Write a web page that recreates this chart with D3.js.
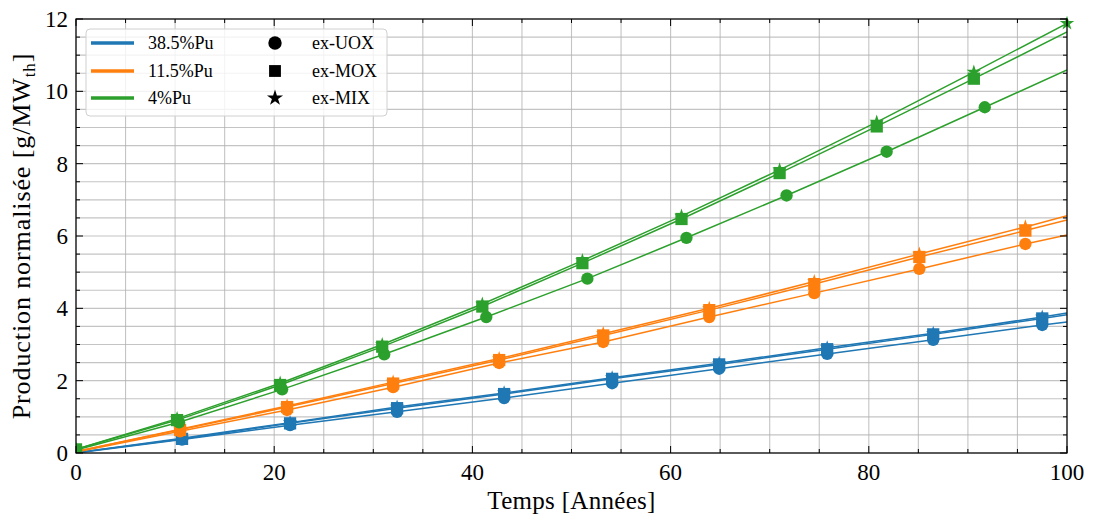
<!DOCTYPE html>
<html>
<head>
<meta charset="utf-8">
<script src="https://cdn.jsdelivr.net/npm/d3@7"></script>
<style>
  body { margin: 0; background: #fff; }
  svg { display: block; }
  text { font-family: "Liberation Serif", "DejaVu Serif", serif; fill: #000; }
</style>
</head>
<body>
<svg id="chart" width="1094" height="520"></svg>
<script>
// ---------------- data ----------------
const fuels = ["38.5%Pu", "11.5%Pu", "4%Pu"];
const colors = ["#1f77b4", "#ff7f0e", "#2ca02c"];
const origins = ["ex-UOX", "ex-MOX", "ex-MIX"];

// times (years) of the sampled points, per fuel
const timesBlue = [0, 10.7, 21.6, 32.4, 43.2, 54.1, 64.9, 75.8, 86.5, 97.5, 100];
const timesOrange = [0, 10.5, 21.3, 32.0, 42.7, 53.2, 63.9, 74.5, 85.1, 95.8, 100];
const timesGreen = [0, 10.2, 20.6, 30.9, 41.0, 51.1, 61.1, 71.0, 80.8, 90.6, 100];
const timesGreenUOX = [0, 10.4, 20.8, 31.1, 41.4, 51.6, 61.6, 71.7, 81.8, 91.7, 100];

// production [g/MWth]
const blueUOX = [0.0, 0.37, 0.77, 1.14, 1.52, 1.93, 2.33, 2.74, 3.13, 3.54, 3.62];
const blueMOX = [0.01, 0.39, 0.82, 1.24, 1.63, 2.05, 2.45, 2.87, 3.28, 3.72, 3.82];
const blueMIX = [0.01, 0.41, 0.84, 1.27, 1.66, 2.08, 2.48, 2.91, 3.31, 3.76, 3.87];

const orangeUOX = [0.03, 0.60, 1.19, 1.82, 2.49, 3.07, 3.76, 4.42, 5.09, 5.78, 6.03];
const orangeMOX = [0.04, 0.64, 1.27, 1.92, 2.57, 3.25, 3.95, 4.67, 5.42, 6.15, 6.44];
const orangeMIX = [0.04, 0.66, 1.30, 1.96, 2.61, 3.30, 4.00, 4.74, 5.50, 6.25, 6.56];

const greenUOX = [0.08, 0.85, 1.76, 2.73, 3.76, 4.82, 5.95, 7.12, 8.33, 9.56, 10.59];
const greenMOX = [0.1, 0.91, 1.88, 2.94, 4.05, 5.25, 6.47, 7.74, 9.03, 10.35, 11.64];
const greenMIX = [0.1, 0.95, 1.93, 3.0, 4.12, 5.32, 6.55, 7.83, 9.15, 10.53, 11.88];

// number of leading points that carry a marker (last point marked only for green ex-MIX)
const markedCount = { "ex-UOX": 10, "ex-MOX": 10, "ex-MIX": 10 };
const greenMIXMarked = 11;

const xTicks = [0, 20, 40, 60, 80, 100];
const yTicks = [0, 2, 4, 6, 8, 10, 12];

const series = [
  { fuel: 0, origin: "ex-UOX", t: timesBlue, v: blueUOX },
  { fuel: 0, origin: "ex-MIX", t: timesBlue, v: blueMIX },
  { fuel: 0, origin: "ex-MOX", t: timesBlue, v: blueMOX },
  { fuel: 1, origin: "ex-UOX", t: timesOrange, v: orangeUOX },
  { fuel: 1, origin: "ex-MIX", t: timesOrange, v: orangeMIX },
  { fuel: 1, origin: "ex-MOX", t: timesOrange, v: orangeMOX },
  { fuel: 2, origin: "ex-UOX", t: timesGreenUOX, v: greenUOX },
  { fuel: 2, origin: "ex-MIX", t: timesGreen, v: greenMIX },
  { fuel: 2, origin: "ex-MOX", t: timesGreen, v: greenMOX }
];

// ---------------- layout ----------------
const W = 1094, H = 520;
const m = { left: 76, right: 27, top: 19, bottom: 67 };
const iw = W - m.left - m.right, ih = H - m.top - m.bottom;

const svg = d3.select("#chart");
const g = svg.append("g").attr("transform", `translate(${m.left},${m.top})`);

const x = d3.scaleLinear().domain([0, 100]).range([0, iw]);
const y = d3.scaleLinear().domain([0, 12]).range([ih, 0]);

const xMinor = d3.range(0, 100.01, 5);
const yMinor = d3.range(0, 12.01, 0.5);

// grid
g.append("g").selectAll("line").data(xMinor).join("line")
  .attr("x1", d => x(d)).attr("x2", d => x(d)).attr("y1", 0).attr("y2", ih)
  .attr("stroke", "#b0b0b0").attr("stroke-opacity", 0.75).attr("stroke-width", 1.1);
g.append("g").selectAll("line").data(yMinor).join("line")
  .attr("y1", d => y(d)).attr("y2", d => y(d)).attr("x1", 0).attr("x2", iw)
  .attr("stroke", "#b0b0b0").attr("stroke-opacity", 0.75).attr("stroke-width", 1.1);

// clip
svg.append("defs").append("clipPath").attr("id", "clip")
  .append("rect").attr("x", 0).attr("y", 0).attr("width", iw).attr("height", ih);

const plot = g.append("g").attr("clip-path", "url(#clip)");
const line = d3.line().x(d => x(d[0])).y(d => y(d[1]));

const symType = { "ex-UOX": d3.symbolCircle, "ex-MOX": d3.symbolSquare, "ex-MIX": d3.symbolStar };
const symSize = { "ex-UOX": 120, "ex-MOX": 150, "ex-MIX": 65 };

series.forEach(s => {
  const pts = s.t.map((t, i) => [t, s.v[i]]);
  plot.append("path").datum(pts)
    .attr("d", line).attr("fill", "none")
    .attr("stroke", colors[s.fuel]).attr("stroke-width", 1.5);
  const n = (s.fuel === 2 && s.origin === "ex-MIX") ? greenMIXMarked : markedCount[s.origin];
  const sym = d3.symbol().type(symType[s.origin]).size(symSize[s.origin]);
  g.append("g").selectAll("path").data(pts.slice(1, n)).join("path")
    .attr("transform", d => `translate(${x(d[0])},${y(d[1])})`)
    .attr("d", sym).attr("fill", colors[s.fuel]);
  // marker at origin is clipped by the axes
  plot.append("path").datum(pts[0])
    .attr("transform", d => `translate(${x(d[0])},${y(d[1])})`)
    .attr("d", sym).attr("fill", colors[s.fuel]);
});

// frame
g.append("rect").attr("x", 0).attr("y", 0).attr("width", iw).attr("height", ih)
  .attr("fill", "none").attr("stroke", "#000").attr("stroke-width", 1.2);

// ticks (inward, all sides)
const tk = g.append("g").attr("stroke", "#000").attr("stroke-width", 1);
xMinor.forEach(d => {
  const L = xTicks.includes(d) ? 7 : 4;
  tk.append("line").attr("x1", x(d)).attr("x2", x(d)).attr("y1", ih).attr("y2", ih - L);
  tk.append("line").attr("x1", x(d)).attr("x2", x(d)).attr("y1", 0).attr("y2", L);
});
yMinor.forEach(d => {
  const L = yTicks.includes(d) ? 7 : 4;
  tk.append("line").attr("y1", y(d)).attr("y2", y(d)).attr("x1", 0).attr("x2", L);
  tk.append("line").attr("y1", y(d)).attr("y2", y(d)).attr("x1", iw).attr("x2", iw - L);
});

// tick labels
g.append("g").selectAll("text").data(xTicks).join("text")
  .attr("x", d => x(d)).attr("y", ih + 27).attr("text-anchor", "middle")
  .attr("font-size", 23).text(d => d);
g.append("g").selectAll("text").data(yTicks).join("text")
  .attr("x", -8).attr("y", d => y(d) + 8).attr("text-anchor", "end")
  .attr("font-size", 23).text(d => d);

// axis titles
g.append("text").attr("x", iw / 2).attr("y", ih + 56).attr("text-anchor", "middle")
  .attr("font-size", 25).attr("letter-spacing", 0.3).text("Temps [Années]");
const yl = svg.append("text").attr("transform", `translate(30,${m.top + ih / 2}) rotate(-90)`)
  .attr("text-anchor", "middle").attr("font-size", 26).attr("letter-spacing", 0.9);
yl.append("tspan").text("Production normalisée [g/MW");
yl.append("tspan").attr("font-size", 17).attr("dy", 5).text("th");
yl.append("tspan").attr("dy", -5).text("]");

// legend
const lg = svg.append("g");
lg.append("rect").attr("x", 86).attr("y", 29).attr("width", 301).attr("height", 87).attr("rx", 4)
  .attr("fill", "#fff").attr("fill-opacity", 0.8).attr("stroke", "#d0d0d0");
const rows = [43, 71, 98];
fuels.forEach((f, i) => {
  lg.append("line").attr("x1", 91).attr("x2", 134).attr("y1", rows[i]).attr("y2", rows[i])
    .attr("stroke", colors[i]).attr("stroke-width", 3.5);
  lg.append("text").attr("x", 148).attr("y", rows[i] + 6).attr("font-size", 18).text(f);
});
origins.forEach((o, i) => {
  const sz = { "ex-UOX": 140, "ex-MOX": 140, "ex-MIX": 80 }[o];
  lg.append("path").attr("transform", `translate(275,${rows[i]})`)
    .attr("d", d3.symbol().type(symType[o]).size(sz)).attr("fill", "#000");
  lg.append("text").attr("x", 312).attr("y", rows[i] + 6).attr("font-size", 18).text(o);
});
</script>
</body>
</html>
